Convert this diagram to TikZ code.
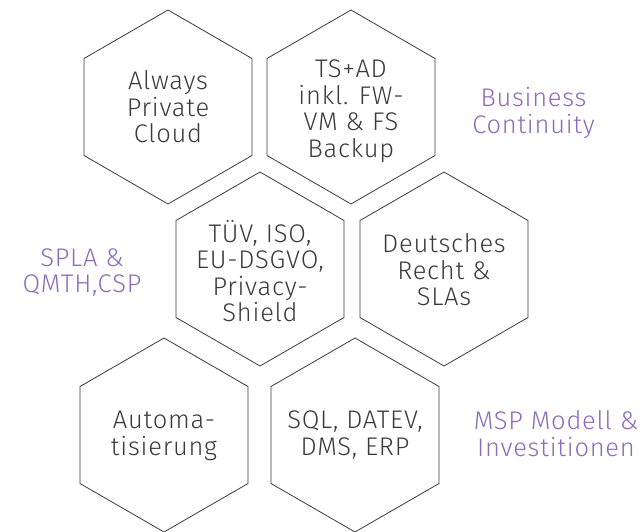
\documentclass[tikz,border=0pt]{standalone}
\usepackage{fontspec}
\setmainfont{Fira Sans Light}[LetterSpace=3]
\usetikzlibrary{shapes.geometric}
\definecolor{hexgray}{HTML}{3A3A3A}
\definecolor{notepurple}{HTML}{8C6BB8}
\begin{document}
\begin{tikzpicture}[x=1pt,y=-1pt,
    hexa/.style={shape=regular polygon,regular polygon sides=6,regular polygon rotate=30,
      minimum size=194pt,inner sep=0pt,draw=hexgray,line width=0.8pt},
    hextext/.style={text=hexgray,align=center,inner sep=0pt,font=\fontsize{25.5}{26.5}\selectfont},
    note/.style={text=notepurple,align=center,inner sep=0pt,font=\fontsize{25.5}{26.5}\selectfont}]
        \useasboundingbox (0,0) rectangle (643,531);
        % hexagons, row by row
        \node[hexa] (cloud) at (168,107) {};
        \node[hexa] (backup) at (351,107) {};
        \node[hexa] (cert) at (260,269) {};
        \node[hexa] (recht) at (444,269) {};
        \node[hexa] (auto) at (164,435) {};
        \node[hexa] (apps) at (355,435) {};
        % texts in the hexagons
        \node[hextext] (cloudtext) at (168,107) {Always\\Private\\Cloud};
        \node[hextext] (backuptext) at (351,111) {TS+AD\\inkl. FW-\\VM \& FS\\Backup};
        \node[hextext] (certtext) at (260,271) {TÜV, ISO,\\EU-DSGVO,\\Privacy-\\Shield};
        \node[hextext] (rechttext) at (444,270) {Deutsches\\Recht \&\\SLAs};
        \node[hextext] (autotext) at (164,436) {Automa-\\tisierung};
        \node[hextext] (appstext) at (355,435) {SQL, DATEV,\\DMS, ERP};
        % side notes
        \node[note] (bc) at (533.5,113) {Business\\Continuity};
        \node[note] (spla) at (82,272.5) {SPLA \&\\QMTH,CSP};
        \node[note] (msp) at (556,433.5) {MSP Modell \&\\Investitionen};
\end{tikzpicture}
\end{document}
